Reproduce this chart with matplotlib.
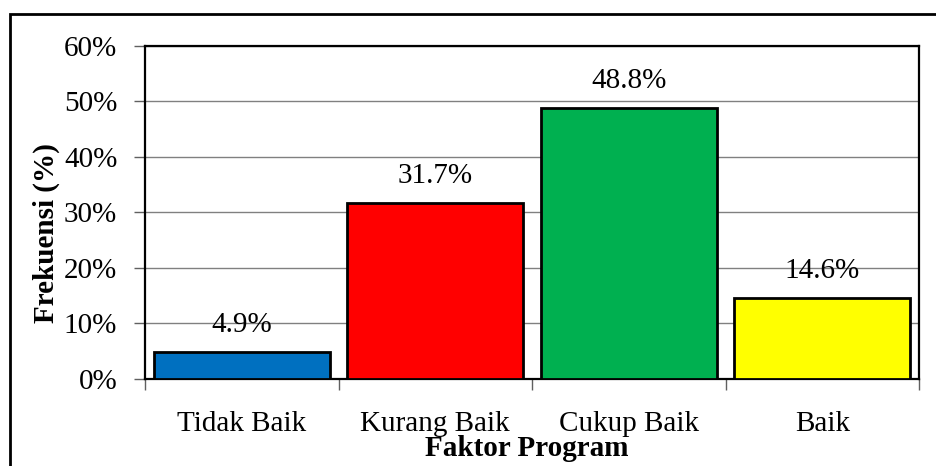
import matplotlib
matplotlib.use("Agg")
import matplotlib.pyplot as plt
from matplotlib.patches import Rectangle
from matplotlib.ticker import FixedLocator, PercentFormatter

# data
categories = ["Tidak Baik", "Kurang Baik", "Cukup Baik", "Baik"]
values = [4.9, 31.7, 48.8, 14.6]
bar_colors = ["#0070C0", "#FF0000", "#00B050", "#FFFF00"]
y_ticks = [0, 10, 20, 30, 40, 50, 60]

plt.rcParams["font.family"] = ["Liberation Serif", "DejaVu Serif"]

fig = plt.figure(figsize=(9.37, 4.66), dpi=100)
ax = fig.add_axes([0.1548, 0.1867, 0.826, 0.7146])

# outer frame of the chart (cut at right and bottom in the reference)
fig.patches.append(Rectangle((10.5 / 937, -0.1), 1.2, 1 - 13.5 / 466 + 0.1,
                             transform=fig.transFigure, fill=False,
                             edgecolor="black", linewidth=2))

x = list(range(len(categories)))
ax.bar(x, values, width=0.91, color=bar_colors, edgecolor="black",
       linewidth=2, zorder=3)

for xi, v in zip(x, values):
    ax.annotate(f"{v:.1f}%", (xi, v), xytext=(0, 10), textcoords="offset points",
                ha="center", va="bottom", fontsize=21, zorder=4)

ax.set_xlim(-0.5, len(categories) - 0.5)
ax.set_ylim(0, 60)
ax.set_yticks(y_ticks)
ax.yaxis.set_major_formatter(PercentFormatter(decimals=0))
ax.set_xticks(x)
ax.set_xticklabels(categories)
ax.xaxis.set_minor_locator(FixedLocator([i - 0.5 for i in range(len(categories) + 1)]))

ax.tick_params(axis="x", which="major", length=0, pad=23, labelsize=21)
ax.tick_params(axis="x", which="minor", length=8, width=1, color="#606060")
ax.tick_params(axis="y", length=8, width=1, color="#606060", pad=12, labelsize=21)

ax.grid(axis="y", color="#808080", linewidth=1, zorder=0)
for side in ax.spines.values():
    side.set_linewidth(1.6)
    side.set_color("black")

ax.set_xlabel("Faktor Program", fontsize=21, fontweight="bold")
ax.xaxis.set_label_coords(0.4935, -0.168)
ax.set_ylabel("Frekuensi (%)", fontsize=21, fontweight="bold")
ax.yaxis.set_label_coords(-0.11, 0.438)

fig.savefig("out.png", dpi=100)
